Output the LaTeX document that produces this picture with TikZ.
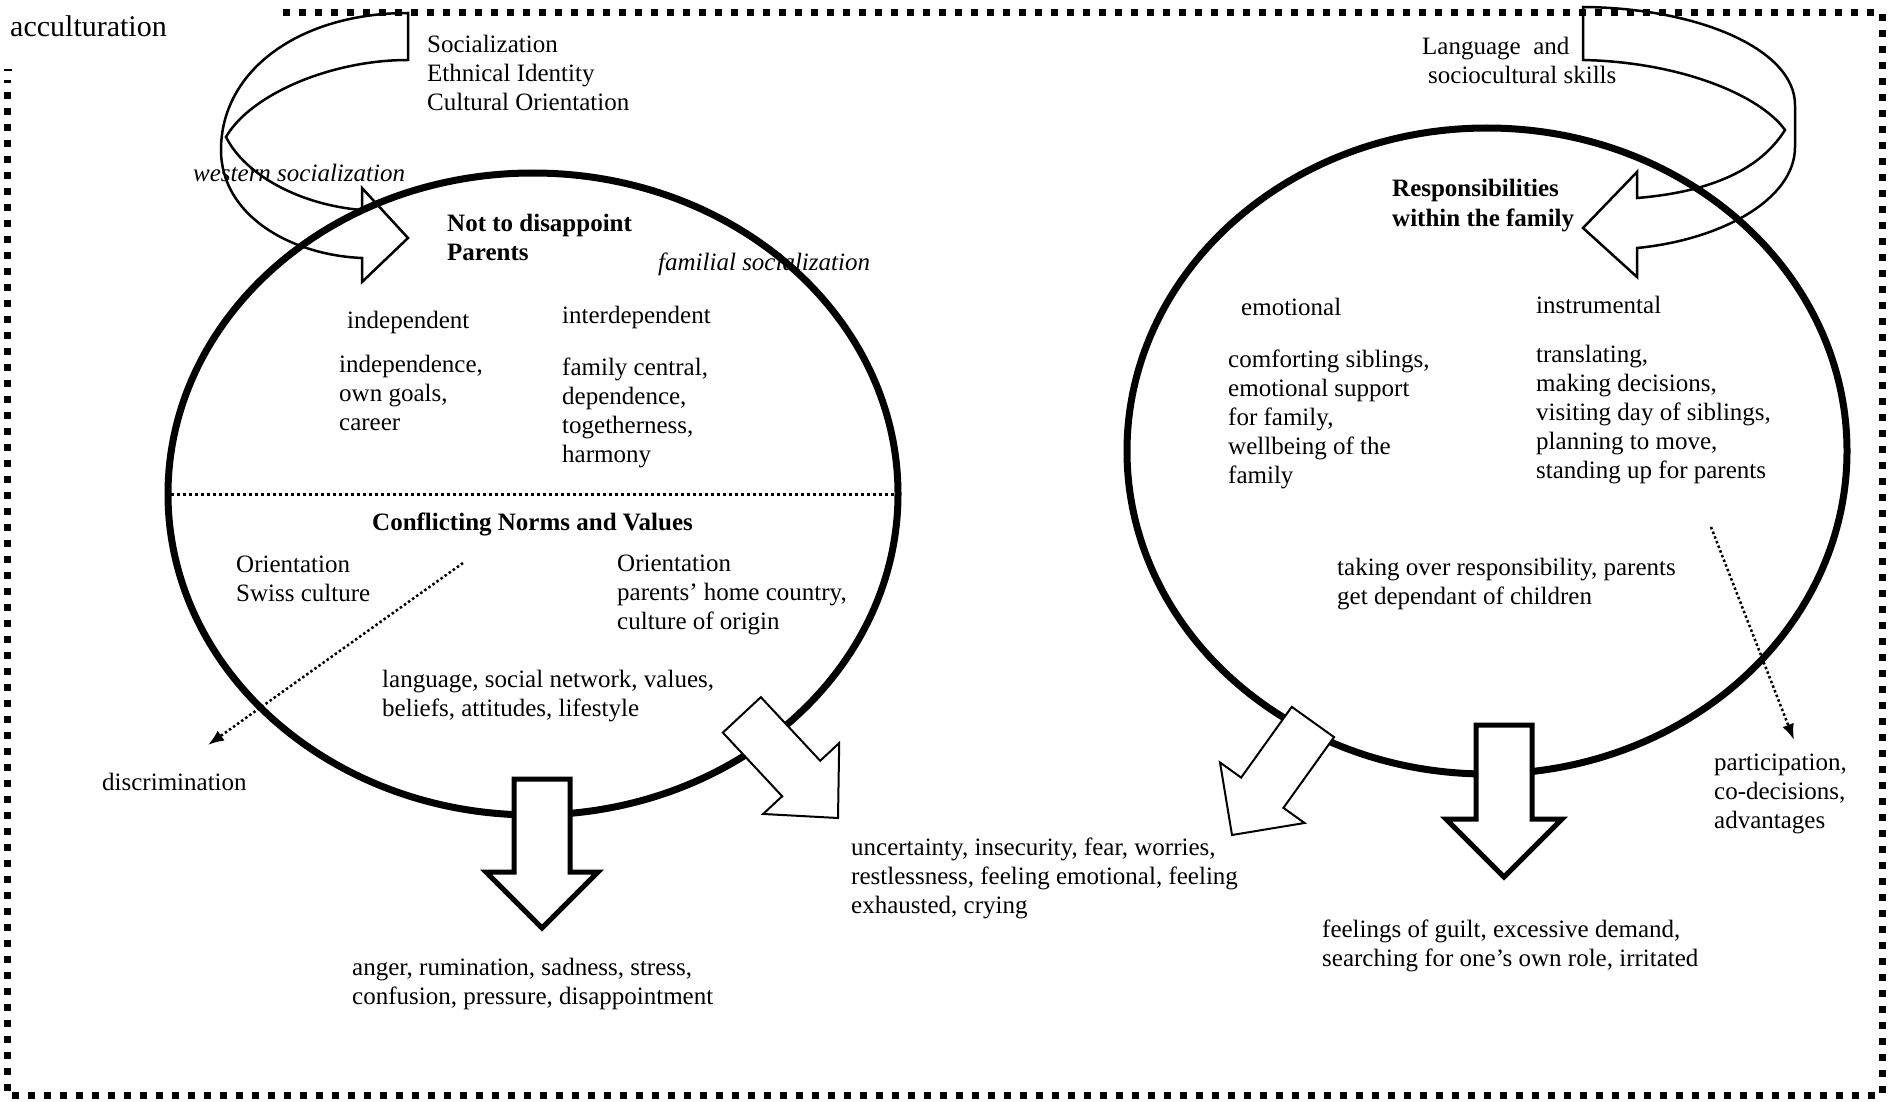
\documentclass[tikz,border=0pt]{standalone}
\usepackage{fontspec}
\setmainfont{Liberation Serif}
\usetikzlibrary{shapes.geometric,arrows.meta}

\begin{document}
\begin{tikzpicture}[x=1pt,y=-1pt,
        txt/.style={anchor=base west, inner sep=0pt, align=left, font=\fontsize{25}{29}\selectfont},
        slanted/.style={txt, font=\fontsize{25}{29}\selectfont\itshape},
        heading/.style={txt, font=\fontsize{25}{29}\selectfont\bfseries},
        ring/.style={draw, ellipse, line width=7pt},
        ribbon/.style={line width=2.5pt},
        blockarrow/.style={draw, fill=white, line join=miter},
        dotarrow/.style={line width=2.5pt, dash pattern=on 2.5pt off 2.5pt, -{Latex[length=16pt,width=12pt]}}]
        \useasboundingbox (0,0) rectangle (1890,1102);

        \draw[line width=7pt, dash pattern=on 7pt off 9pt] (283,13) -- (1882,13) -- (1882,1095) -- (7,1095) -- (7,80);
        \draw[line width=1.5pt] (4,70) -- (12,70);

        \draw[ribbon] (362,258) .. controls (290,255) and (221,215) .. (221,150) .. controls (221,70) and (300,13) .. (408,13) -- (408,60) .. controls (330,60) and (250,95) .. (226,137) .. controls (245,175) and (300,205) .. (362,210) -- (362,188) -- (408,238) -- (362,282) -- cycle;
        \draw[ribbon] (1637,248) .. controls (1720,240) and (1795,200) .. (1795,147) -- (1795,105) .. controls (1795,50) and (1700,8) .. (1583,7) -- (1583,60) .. controls (1680,62) and (1760,95) .. (1785,130) .. controls (1760,170) and (1710,192) .. (1637,198) -- (1637,172) -- (1583,228) -- (1637,277) -- cycle;

        \node[ring, minimum width=730pt, minimum height=642pt] (norms) at (533,494) {};
        \node[ring, minimum width=720pt, minimum height=646pt] (duties) at (1487,451) {};
        \draw[line width=3pt, dash pattern=on 3pt off 3pt] (norms.west) -- (norms.east);

        \foreach \x/\y/\r/\w/\s/\h/\k/\l in {542/928/0/5/28/56/56/149, 1504/877/0/5/28/58/58/152, 838/818/43/2/26/52/54/141, 1232/835/-35.6/2/26/52/52/139}
                \draw[blockarrow, line width=\w pt, shift={(\x,\y)}, rotate=\r] (-\s,-\l) -- (\s,-\l) -- (\s,-\k) -- (\h,-\k) -- (0,0) -- (-\h,-\k) -- (-\s,-\k) -- cycle;

        \coordinate (clash) at (463,563);
        \coordinate (othered) at (208,745);
        \coordinate (shared) at (1711,527);
        \coordinate (gain) at (1794,740);
        \draw[dotarrow] (clash) -- (othered);
        \draw[dotarrow] (shared) -- (gain);

        \node[txt, font=\fontsize{30}{36}\selectfont] (accult) at (10,37) {acculturation};
        \node[txt] (ident) at (427,111) {Socialization\\Ethnical Identity\\Cultural Orientation};
        \node[slanted] (western) at (193,182) {western socialization};
        \node[heading] (parents) at (447,261) {Not to disappoint\\Parents};
        \node[slanted] (familial) at (658,270) {familial socialization};
        \node[txt] (indep) at (347,328) {independent};
        \node[txt] (interdep) at (562,323) {interdependent};
        \node[txt] (indepitems) at (339,430) {independence,\\own goals,\\career};
        \node[txt] (interitems) at (562,462) {family central,\\dependence,\\togetherness,\\harmony};
        \node[heading] (conflict) at (372,530) {Conflicting Norms and Values};
        \node[txt] (swiss) at (236,601) {Orientation\\Swiss culture};
        \node[txt] (origin) at (617,629) {Orientation\\parents' home country,\\culture of origin};
        \node[txt] (areas) at (382,716) {language, social network, values,\\beliefs, attitudes, lifestyle};
        \node[txt] (discr) at (102,790) {discrimination};
        \node[txt] (anger) at (352,1004) {anger, rumination, sadness, stress,\\confusion, pressure, disappointment};
        \node[txt] (worry) at (851,913) {uncertainty, insecurity, fear, worries,\\restlessness, feeling emotional, feeling\\exhausted, crying};

        \node[txt] (skills) at (1422,84) {Language\ \ and\\\hspace*{6pt}sociocultural skills};
        \node[heading] (resp) at (1392,226) {Responsibilities\\within the family};
        \node[txt] (emot) at (1241,315) {emotional};
        \node[txt] (instr) at (1536,313) {instrumental};
        \node[txt] (emotitems) at (1228,483) {comforting siblings,\\emotional support\\for family,\\wellbeing of the\\family};
        \node[txt] (instritems) at (1536,478) {translating,\\making decisions,\\visiting day of siblings,\\planning to move,\\standing up for parents};
        \node[txt] (takeover) at (1337,604) {taking over responsibility, parents\\get dependant of children};
        \node[txt] (partic) at (1714,828) {participation,\\co-decisions,\\advantages};
        \node[txt] (guilt) at (1322,966) {feelings of guilt, excessive demand,\\searching for one's own role, irritated};
\end{tikzpicture}
\end{document}
